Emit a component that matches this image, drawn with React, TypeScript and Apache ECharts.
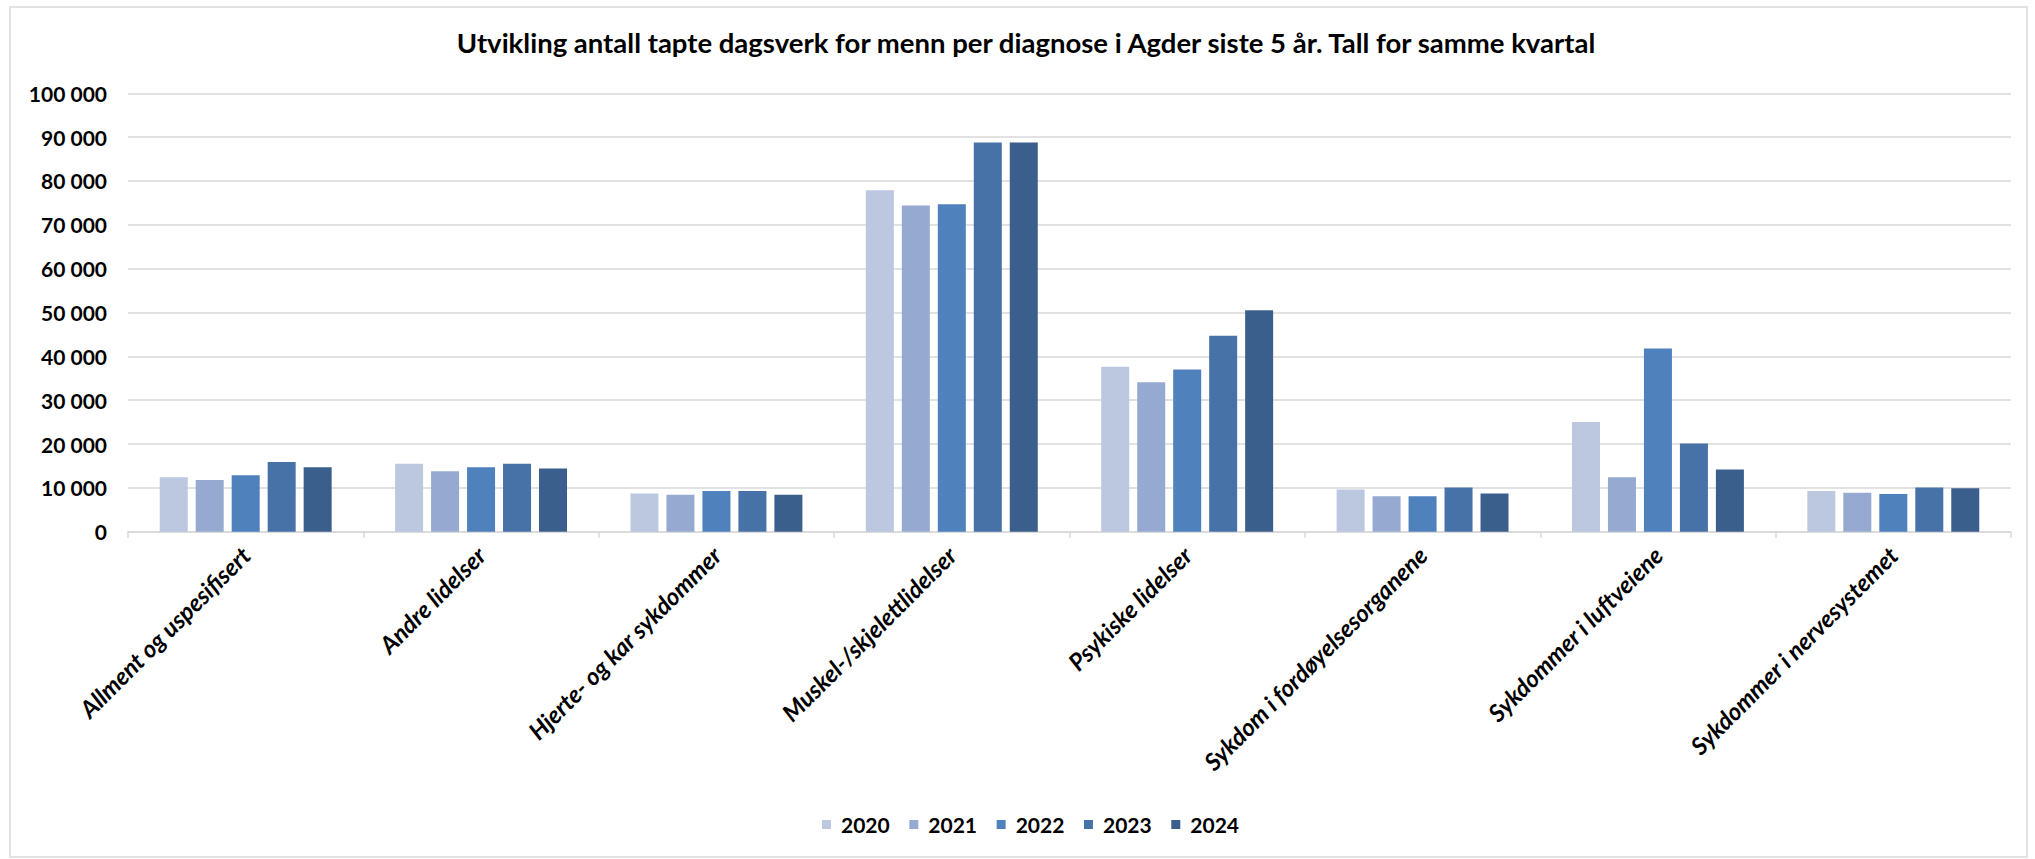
import React, { useEffect, useRef } from "react";
import * as echarts from "echarts";

const categories = [
  "Allment og uspesifisert",
  "Andre lidelser",
  "Hjerte- og kar sykdommer",
  "Muskel-/skjelettlidelser",
  "Psykiske lidelser",
  "Sykdom i fordøyelsesorganene",
  "Sykdommer i luftveiene",
  "Sykdommer i nervesystemet",
];

const years = ["2020", "2021", "2022", "2023", "2024"];

const v2020 = [12400, 15500, 8700, 77900, 37600, 9600, 25000, 9300];
const v2021 = [11800, 13800, 8400, 74400, 34100, 8100, 12400, 8900];
const v2022 = [12900, 14700, 9300, 74700, 37000, 8100, 41800, 8600];
const v2023 = [15900, 15500, 9300, 88800, 44700, 10100, 20100, 10100];
const v2024 = [14700, 14400, 8400, 88800, 50500, 8700, 14200, 9900];

const seriesValues = [v2020, v2021, v2022, v2023, v2024];
const colors = ["#BCC8E0", "#96AAD1", "#4F81BD", "#4672A8", "#3B5F8D"];

const yTicks = [0, 10000, 20000, 30000, 40000, 50000, 60000, 70000, 80000, 90000, 100000];

const title =
  "Utvikling antall tapte dagsverk for menn per diagnose i Agder siste 5 år. Tall for samme kvartal";

const fmt = (v: number) => {
  const s = String(Math.round(v));
  return s.replace(/\B(?=(\d{3})+(?!\d))/g, " ");
};

export default function App() {
  const ref = useRef<HTMLDivElement>(null);
  useEffect(() => {
    if (!ref.current) return;
    const chart = echarts.init(ref.current, null, { renderer: "svg" });
    const font = "Lato, 'Noto Sans', sans-serif";
    chart.setOption({
      animation: false,
      backgroundColor: "#ffffff",
      textStyle: { fontFamily: font },
      title: {
        text: title,
        left: 1026,
        textAlign: "center",
        top: 28,
        padding: 0,
        textStyle: { fontFamily: font, fontWeight: "bold", fontSize: 27.5, color: "#000" },
      },
      graphic: [
        {
          type: "rect",
          shape: { x: 10, y: 7, width: 2017, height: 850 },
          style: { fill: "none", stroke: "#D9D9D9", lineWidth: 1.5 },
          silent: true,
          z: -1,
        },
      ],
      legend: {
        data: years,
        left: 822,
        top: 814,
        padding: 0,
        itemWidth: 9,
        itemHeight: 9,
        itemGap: 19.6,
        icon: "rect",
        textStyle: {
          fontFamily: font,
          fontWeight: "bold",
          fontSize: 21,
          color: "#000",
          padding: [0, 0, 0, 5],
        },
      },
      grid: { left: 128, right: 24, top: 93.3, bottom: 327.3, containLabel: false },
      xAxis: {
        type: "category",
        data: categories,
        axisLine: { show: true, lineStyle: { color: "#D9D9D9", width: 1.5 } },
        axisTick: { show: true, length: 6, lineStyle: { color: "#D9D9D9", width: 1.5 } },
        axisLabel: {
          rotate: 45,
          interval: 0,
          margin: 19,
          padding: [36, 0, 0, 0],
          fontFamily: font,
          fontWeight: "bold",
          fontStyle: "italic",
          fontSize: 24,
          color: "#000",
        },
      },
      yAxis: {
        type: "value",
        min: 0,
        max: 100000,
        interval: 10000,
        axisLine: { show: false },
        axisTick: { show: false },
        splitLine: { show: true, lineStyle: { color: "#D9D9D9", width: 1.5 } },
        axisLabel: {
          margin: 21,
          fontFamily: font,
          fontWeight: "bold",
          fontSize: 21,
          color: "#000",
          formatter: (v: number) => (yTicks.includes(v) ? fmt(v) : ""),
        },
      },
      series: years.map((y, i) => ({
        name: y,
        type: "bar",
        data: seriesValues[i],
        barWidth: 28,
        barGap: "28.5%",
        itemStyle: { color: colors[i] },
      })),
    });
    return () => chart.dispose();
  }, []);
  return (
    <div
      ref={ref}
      style={{ position: "fixed", left: 0, top: 0, width: 2035, height: 859 }}
    />
  );
}
